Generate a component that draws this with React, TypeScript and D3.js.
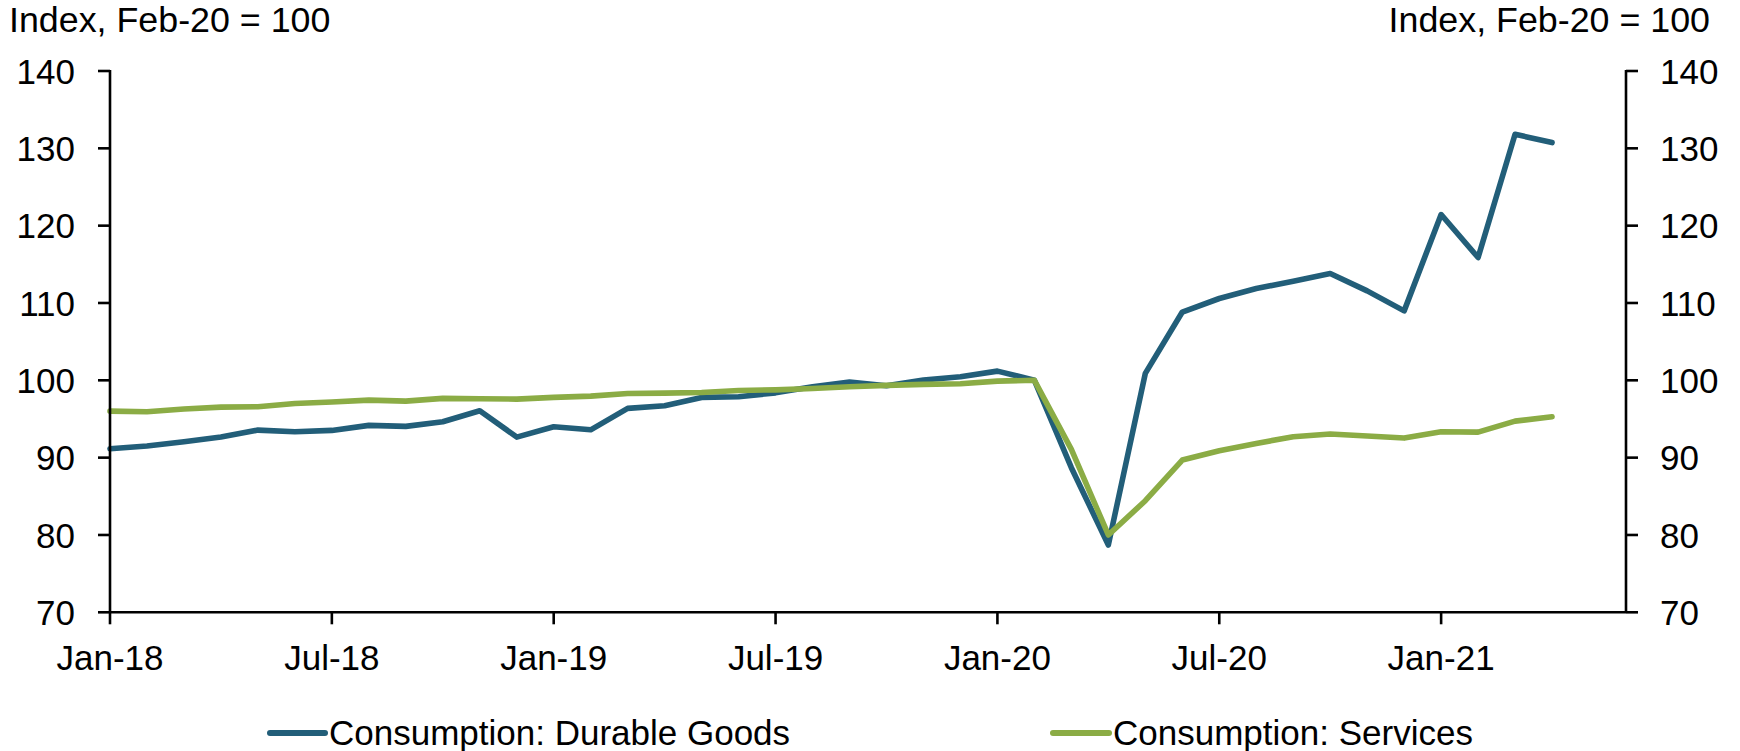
import React from "react";
import * as d3 from "d3";

// Monthly data, Jan-18 .. Apr-21 (index, Feb-20 = 100)
const months: string[] = [
  "Jan-18","Feb-18","Mar-18","Apr-18","May-18","Jun-18","Jul-18","Aug-18","Sep-18","Oct-18","Nov-18","Dec-18",
  "Jan-19","Feb-19","Mar-19","Apr-19","May-19","Jun-19","Jul-19","Aug-19","Sep-19","Oct-19","Nov-19","Dec-19",
  "Jan-20","Feb-20","Mar-20","Apr-20","May-20","Jun-20","Jul-20","Aug-20","Sep-20","Oct-20","Nov-20","Dec-20",
  "Jan-21","Feb-21","Mar-21","Apr-21",
];

const durableGoods: number[] = [
  91.15, 91.5, 92.05, 92.66, 93.56, 93.35, 93.52, 94.17, 94.04, 94.64, 96.06, 92.66,
  93.99, 93.6, 96.37, 96.71, 97.79, 97.87, 98.38, 99.16, 99.77, 99.29, 100.03, 100.45,
  101.19, 100.0, 88.7, 78.7, 100.9, 108.83, 110.58, 111.87, 112.82, 113.81, 111.57, 108.98,
  121.44, 115.88, 131.82, 130.74,
];

const services: number[] = [
  96.02, 95.93, 96.28, 96.53, 96.58, 97.0, 97.2, 97.44, 97.31, 97.66, 97.61, 97.57,
  97.79, 97.95, 98.3, 98.34, 98.43, 98.69, 98.77, 98.95, 99.16, 99.34, 99.47, 99.55,
  99.9, 100.0, 91.07, 80.0, 84.43, 89.69, 90.89, 91.84, 92.7, 93.05, 92.79, 92.53,
  93.35, 93.3, 94.72, 95.28,
];

const xTickMonths: number[] = [0, 6, 12, 18, 24, 30, 36];
const xTickLabels: string[] = ["Jan-18", "Jul-18", "Jan-19", "Jul-19", "Jan-20", "Jul-20", "Jan-21"];
const yTicks: number[] = [70, 80, 90, 100, 110, 120, 130, 140];
const axisTitle = "Index, Feb-20 = 100";
const seriesNames: string[] = ["Consumption: Durable Goods", "Consumption: Services"];

const BLUE = "#225E79";
const GREEN = "#8BAC45";
const FONT = "'Liberation Sans', Arial, sans-serif";

export default function App() {
  const W = 1740, H = 751;
  const left = 110, right = 1626, top = 71, bottom = 612.3;
  const x = d3.scaleLinear().domain([0, 41]).range([left, right]);
  const y = d3.scaleLinear().domain([70, 140]).range([bottom, top]);
  const line = d3.line<number>().x((_, i) => x(i)).y((d) => y(d));
  const fs = 35;
  const axisW = 2.6;

  return (
    <svg width={W} height={H} style={{ position: "absolute", left: 0, top: 0, background: "#fff" }}
      fontFamily={FONT}>
      {/* axis titles */}
      <text x={9} y={32} fontSize={35.8} fill="#000">{axisTitle}</text>
      <text x={1710} y={32} fontSize={35.8} fill="#000" textAnchor="end">{axisTitle}</text>

      {/* series */}
      <path d={line(durableGoods) || ""} fill="none" stroke={BLUE} strokeWidth={5.6}
        strokeLinejoin="round" strokeLinecap="round" />
      <path d={line(services) || ""} fill="none" stroke={GREEN} strokeWidth={5.6}
        strokeLinejoin="round" strokeLinecap="round" />

      {/* left axis */}
      <line x1={left} x2={left} y1={top - 1} y2={bottom} stroke="#000" strokeWidth={axisW} />
      {yTicks.map((t) => (
        <g key={"l" + t}>
          <line x1={left - 12} x2={left} y1={y(t)} y2={y(t)} stroke="#000" strokeWidth={axisW} />
          <text x={75} y={y(t)} dy="0.36em" fontSize={fs} textAnchor="end" fill="#000">{t}</text>
        </g>
      ))}
      {/* right axis */}
      <line x1={right} x2={right} y1={top - 1} y2={bottom} stroke="#000" strokeWidth={axisW} />
      {yTicks.map((t) => (
        <g key={"r" + t}>
          <line x1={right} x2={right + 12} y1={y(t)} y2={y(t)} stroke="#000" strokeWidth={axisW} />
          <text x={1660} y={y(t)} dy="0.36em" fontSize={fs} textAnchor="start" fill="#000">{t}</text>
        </g>
      ))}
      {/* x axis */}
      <line x1={left} x2={right} y1={bottom} y2={bottom} stroke="#000" strokeWidth={axisW} />
      {xTickMonths.map((m, i) => (
        <g key={"x" + m}>
          <line x1={x(m)} x2={x(m)} y1={bottom} y2={bottom + 12} stroke="#000" strokeWidth={axisW} />
          <text x={x(m)} y={670} fontSize={fs} textAnchor="middle" fill="#000">{xTickLabels[i]}</text>
        </g>
      ))}

      {/* legend */}
      <line x1={270} x2={325} y1={733} y2={733} stroke={BLUE} strokeWidth={6} strokeLinecap="round" />
      <text x={329} y={745} fontSize={fs} fill="#000">{seriesNames[0]}</text>
      <line x1={1053} x2={1109} y1={733} y2={733} stroke={GREEN} strokeWidth={6} strokeLinecap="round" />
      <text x={1113} y={745} fontSize={fs} fill="#000">{seriesNames[1]}</text>
    </svg>
  );
}
